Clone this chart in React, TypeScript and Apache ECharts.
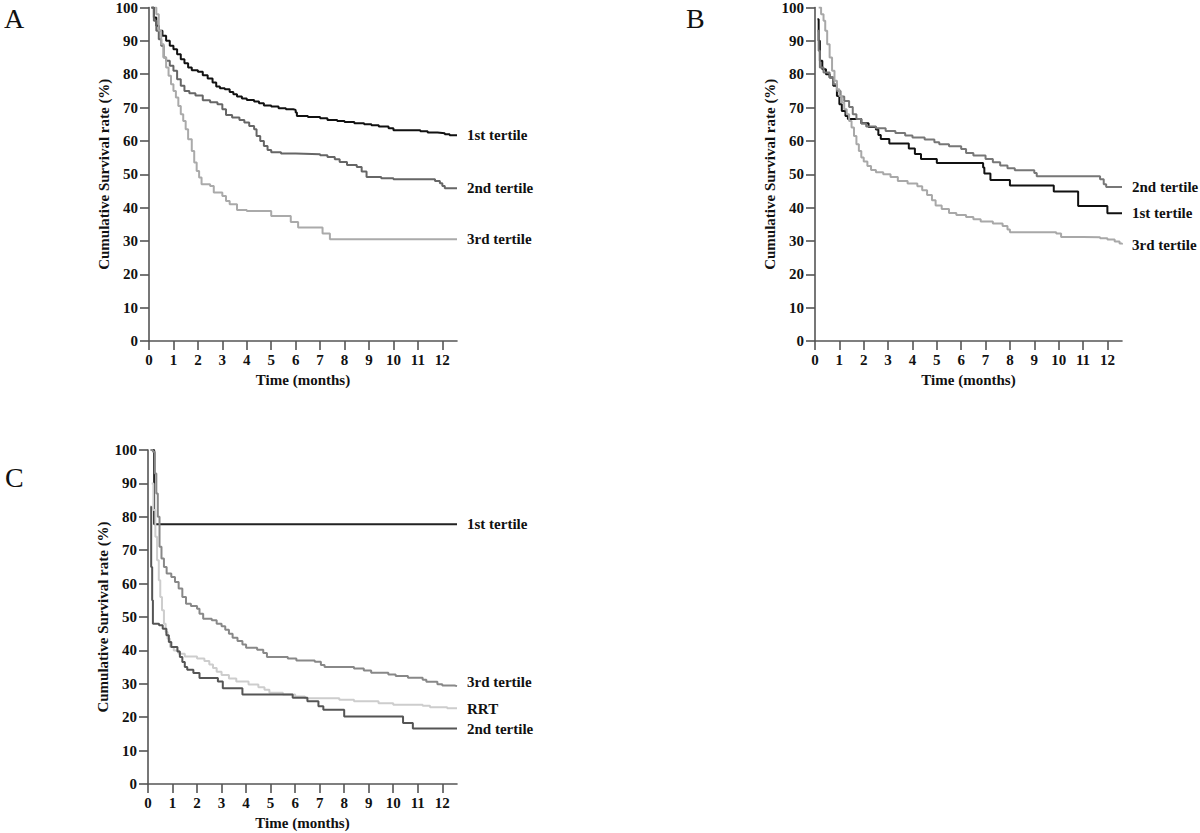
import React, { useEffect, useRef } from "react";
import * as echarts from "echarts";

type Pt = [number, number];

const xTickValues = [0, 1, 2, 3, 4, 5, 6, 7, 8, 9, 10, 11, 12];

// Panel A
const aFirst: Pt[] = [[0.1,100],[0.2,97],[0.3,94.5],[0.4,93],[0.55,91.5],[0.7,90],[0.85,88.5],[1.0,87.5],[1.15,86],[1.3,84.5],[1.45,83.3],[1.6,82],[1.75,81.2],[2.0,80.7],[2.2,79.7],[2.4,78.7],[2.6,77.5],[2.75,76.3],[2.9,75.8],[3.1,75.5],[3.3,74.7],[3.45,74],[3.6,73.3],[3.8,72.7],[4.0,72.3],[4.3,71.8],[4.5,71.3],[4.7,70.6],[5.0,70.3],[5.3,69.8],[5.6,69.5],[5.9,69.3],[6.0,68.5],[6.05,67.5],[6.5,67.2],[7.0,66.8],[7.3,66.3],[7.7,66],[8.0,65.7],[8.4,65.3],[8.8,65],[9.1,64.7],[9.4,64.3],[9.8,63.8],[10.0,63.2],[11.1,62.9],[11.4,62.5],[11.8,62.3],[12.1,62],[12.3,61.7],[12.6,61.7]];
const aSecond: Pt[] = [[0.1,100],[0.2,96],[0.3,93],[0.4,90.5],[0.5,88.5],[0.6,85],[0.7,84],[0.85,82.5],[1.0,81],[1.15,78.5],[1.3,76.5],[1.45,75],[1.65,74.3],[1.9,73.6],[2.2,72.2],[2.5,71.6],[2.8,71],[3.0,69.5],[3.15,67.8],[3.4,67],[3.7,66.3],[3.9,65.5],[4.1,64.5],[4.3,63.5],[4.4,61.5],[4.55,60],[4.7,58.5],[4.85,57.3],[5.0,56.6],[5.4,56.2],[6.0,56],[7.0,55.7],[7.3,55.2],[7.6,54.5],[7.8,53.7],[8.1,52.8],[8.5,52.2],[8.7,50.8],[8.9,49.2],[9.5,48.8],[10.0,48.5],[11.7,48],[11.9,47.3],[12.0,46.5],[12.1,45.8],[12.6,45.8]];
const aThird: Pt[] = [[0.25,100],[0.3,98],[0.4,93],[0.5,89],[0.6,85],[0.7,82],[0.8,79.5],[0.9,77],[1.0,75],[1.1,73],[1.2,70.5],[1.3,68],[1.4,66],[1.5,63.5],[1.6,60.5],[1.75,57],[1.85,53.5],[1.95,51],[2.05,49],[2.15,47],[2.5,46.5],[2.65,44.5],[3.0,43.5],[3.15,42],[3.3,41],[3.6,39.3],[4.0,39],[4.5,39],[5.0,37.5],[5.7,37.5],[5.8,35.7],[6.1,34],[7.0,34],[7.1,32.2],[7.4,30.5],[12.6,30.5]];

// Panel B
const bFirst: Pt[] = [[0.1,96.5],[0.15,90],[0.2,84],[0.3,81.5],[0.45,80],[0.6,79],[0.75,76.5],[0.9,73.5],[1.0,71],[1.1,69],[1.25,67.5],[1.35,66.6],[1.9,65.3],[2.2,64.2],[2.5,63.4],[2.6,61.8],[2.7,60.6],[3.05,59.2],[3.85,57.7],[4.1,56.1],[4.35,54.6],[5.0,53.4],[6.9,52],[6.95,50.2],[7.2,48.3],[8.0,46.6],[9.8,44.8],[10.8,40.5],[12.0,38.3],[12.6,38.3]];
const bSecond: Pt[] = [[0.1,93],[0.15,87],[0.2,82],[0.35,80.5],[0.6,79],[0.75,77],[0.9,75],[1.05,73.3],[1.2,72],[1.4,70.2],[1.55,68],[1.7,66.6],[1.9,65.2],[2.1,64.3],[2.5,63.8],[2.9,63],[3.3,62.4],[3.7,61.6],[4.0,61],[4.5,60.4],[4.9,59.6],[5.1,59],[5.5,58.4],[6.0,57.6],[6.2,56.4],[6.5,55.6],[7.0,54.6],[7.3,53.6],[7.6,52.6],[7.9,51.8],[8.2,51.2],[9.0,50.4],[9.1,49.4],[11.7,48.5],[11.85,47],[11.95,46.2],[12.6,46.2]];
const bThird: Pt[] = [[0.15,100],[0.25,98],[0.35,96],[0.42,93],[0.5,89],[0.6,85],[0.7,81],[0.8,78],[0.9,75.5],[1.0,73.5],[1.1,71.5],[1.2,69.5],[1.3,68],[1.4,66],[1.5,64],[1.6,61.5],[1.7,59],[1.8,57],[1.9,55],[2.0,53.8],[2.15,52.5],[2.3,51.3],[2.5,50.6],[2.8,50],[3.1,49.2],[3.4,48],[3.8,47.2],[4.2,46.4],[4.4,45.2],[4.6,43.8],[4.8,42.2],[4.95,40.6],[5.2,39.6],[5.5,38.4],[5.8,37.8],[6.2,37.2],[6.5,36.5],[6.8,35.8],[7.3,35.2],[7.7,34.5],[7.9,33.4],[8.0,32.6],[9.9,32.2],[10.1,31.2],[11.0,31.1],[11.7,30.8],[12.0,30.4],[12.3,29.8],[12.5,29.2],[12.6,28.9]];

// Panel C
const cFirst: Pt[] = [[0.12,100],[0.25,77.8],[12.6,77.8]];
const cThird: Pt[] = [[0.1,100],[0.2,99.5],[0.28,93],[0.34,87],[0.4,80],[0.47,71],[0.55,67.5],[0.65,65],[0.76,63],[0.95,62],[1.1,60.5],[1.25,58.5],[1.4,56],[1.55,54],[1.75,53.3],[2.0,52.5],[2.1,51],[2.25,49.5],[2.6,49],[2.8,48],[3.0,47.2],[3.15,46.2],[3.3,45],[3.45,43.8],[3.65,42.8],[3.85,41.8],[4.0,40.8],[4.45,40.2],[4.7,39.2],[4.85,38],[5.7,37.6],[6.05,37],[6.8,36.6],[7.05,35.6],[7.2,35],[8.4,34.6],[8.8,34],[9.1,33.3],[9.8,32.8],[10.1,32.3],[10.6,31.8],[11.2,31.2],[11.35,30.6],[11.8,29.9],[12.0,29.5],[12.5,29.3],[12.6,29.3]];
const cRrt: Pt[] = [[0.15,90],[0.22,82],[0.3,74],[0.37,67],[0.44,61],[0.5,56],[0.57,52],[0.65,48],[0.72,45.5],[0.8,43.5],[0.9,41],[1.05,40],[1.25,39],[1.5,38.2],[2.0,37.6],[2.3,36.8],[2.5,35.8],[2.65,34.7],[2.8,33.6],[3.0,32.6],[3.3,31.6],[3.6,30.7],[4.1,29.8],[4.5,29],[4.75,28.2],[4.95,27.3],[5.5,26.8],[6.0,26.2],[6.4,25.7],[7.8,25.2],[8.4,24.8],[9.4,24.2],[10.0,23.7],[11.2,23.4],[11.5,23],[12.2,22.7],[12.6,22.6]];
const cSecond: Pt[] = [[0.1,83],[0.13,65],[0.17,55],[0.2,48],[0.45,47.5],[0.6,46.5],[0.75,44.5],[0.85,42.5],[0.95,41],[1.2,39.7],[1.3,38],[1.4,36.5],[1.5,35],[1.6,34.2],[1.85,33.2],[2.1,31.7],[2.85,30.7],[3.05,28.7],[3.85,26.8],[5.9,25.8],[6.5,24.8],[6.95,23.3],[7.15,22.2],[8.0,20.2],[10.35,20.2],[10.4,18.3],[10.8,16.6],[12.6,16.6]];

const FONT = "'Liberation Serif', 'Times New Roman', serif";

const grids = [
  { left: 149, top: 7, width: 308, height: 334 },
  { left: 815, top: 7, width: 307, height: 334 },
  { left: 148, top: 450, width: 309, height: 334 },
];

function makeAxes(i: number) {
  const axisLine = { show: true, lineStyle: { color: "#555", width: 1.6 } };
  const labelStyle = { fontFamily: FONT, fontWeight: "bold" as const, fontSize: 15, color: "#111" };
  const x = {
    type: "value",
    gridIndex: i,
    min: 0,
    max: 12.6,
    interval: 1,
    axisLine: { ...axisLine, onZero: false },
    axisTick: { show: true, length: 9, lineStyle: { color: "#555", width: 1.6 }, customValues: xTickValues },
    axisLabel: { ...labelStyle, margin: 11, customValues: xTickValues },
    splitLine: { show: false },
    name: "Time (months)",
    nameLocation: "middle",
    nameGap: 31,
    nameTextStyle: { ...labelStyle },
  };
  const y = {
    type: "value",
    gridIndex: i,
    min: 0,
    max: 100,
    interval: 10,
    axisLine: { ...axisLine, onZero: false },
    axisTick: { show: true, length: 9, lineStyle: { color: "#555", width: 1.6 } },
    axisLabel: { ...labelStyle, margin: 11 },
    splitLine: { show: false },
    name: "Cumulative Survival rate (%)",
    nameLocation: "middle",
    nameGap: 36,
    nameTextStyle: { ...labelStyle },
  };
  return { x, y };
}

function curve(name: string, data: Pt[], idx: number, color: string, width = 2, offsetY = 0) {
  return {
    type: "line",
    name,
    xAxisIndex: idx,
    yAxisIndex: idx,
    data,
    step: "end",
    showSymbol: false,
    symbol: "none",
    lineStyle: { color, width },
    itemStyle: { color },
    endLabel: {
      show: true,
      formatter: name,
      distance: 10,
      offset: [0, offsetY],
      fontFamily: FONT,
      fontWeight: "bold",
      fontSize: 15,
      color: "#111",
    },
    emphasis: { disabled: true },
    silent: true,
  };
}

export default function App() {
  const ref = useRef<HTMLDivElement>(null);
  useEffect(() => {
    if (!ref.current) return;
    const chart = echarts.init(ref.current, undefined, { renderer: "svg" });
    const axes = [0, 1, 2].map(makeAxes);
    chart.setOption({
      animation: false,
      backgroundColor: "#fff",
      grid: grids,
      xAxis: axes.map((a) => a.x),
      yAxis: axes.map((a) => a.y),
      series: [
        curve("1st tertile", aFirst, 0, "#111"),
        curve("2nd tertile", aSecond, 0, "#666"),
        curve("3rd tertile", aThird, 0, "#aaa"),
        curve("1st tertile", bFirst, 1, "#111"),
        curve("2nd tertile", bSecond, 1, "#777"),
        curve("3rd tertile", bThird, 1, "#a8a8a8"),
        curve("1st tertile", cFirst, 2, "#222"),
        curve("3rd tertile", cThird, 2, "#888", 2, -4),
        curve("RRT", cRrt, 2, "#cdcdcd"),
        curve("2nd tertile", cSecond, 2, "#555"),
      ],
      graphic: [
        { type: "text", left: 4, top: 4, style: { text: "A", font: `28px ${FONT}`, fill: "#111" } },
        { type: "text", left: 686, top: 4, style: { text: "B", font: `28px ${FONT}`, fill: "#111" } },
        { type: "text", left: 5, top: 463, style: { text: "C", font: `28px ${FONT}`, fill: "#111" } },
      ],
    });
    return () => chart.dispose();
  }, []);
  return <div ref={ref} style={{ position: "absolute", left: 0, top: 0, width: 1200, height: 833 }} />;
}
